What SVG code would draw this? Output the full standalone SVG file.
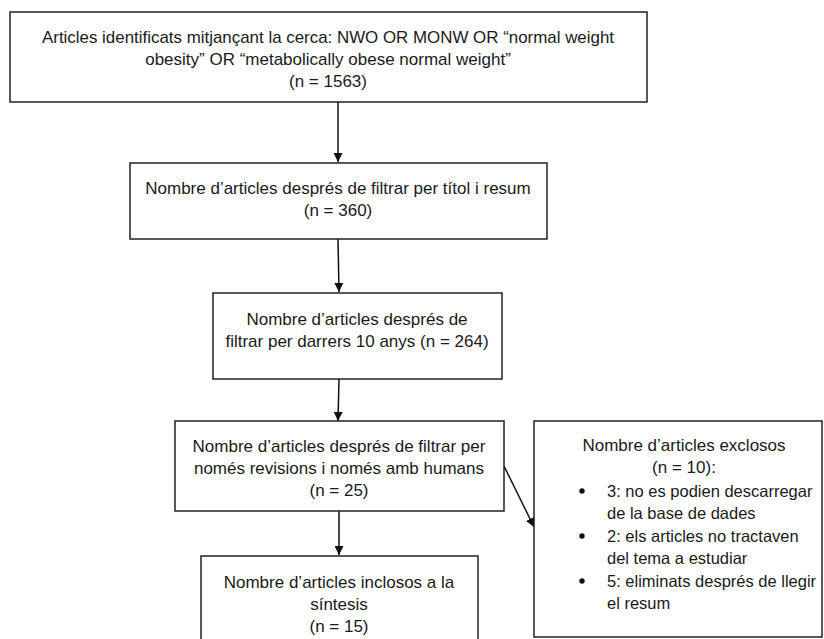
<svg xmlns="http://www.w3.org/2000/svg" width="824" height="639" viewBox="0 0 824 639">
<style>
.box{fill:#fff;stroke:#222;stroke-width:1.5}
text{font-family:"Liberation Sans",Arial,sans-serif;font-size:17px;fill:#1a1a1a}
.c{text-anchor:middle}
.li{font-size:16.5px}
.ln{stroke:#111;stroke-width:1.5;fill:none}
</style>
<defs>
<marker id="ah" viewBox="0 0 10 10" refX="10" refY="5" markerWidth="9" markerHeight="9" markerUnits="userSpaceOnUse" orient="auto">
<path d="M0,0 L10,5 L0,10 z" fill="#111"/>
</marker>
</defs>
<rect width="824" height="639" fill="#fff"/>
<g id="connectors">
<line class="ln" x1="338" y1="102" x2="338" y2="162" marker-end="url(#ah)"/>
<line class="ln" x1="338" y1="239" x2="339" y2="292" marker-end="url(#ah)"/>
<line class="ln" x1="339" y1="379" x2="338" y2="421" marker-end="url(#ah)"/>
<line class="ln" x1="339" y1="511" x2="339" y2="555" marker-end="url(#ah)"/>
<line class="ln" x1="504" y1="466" x2="534" y2="527" marker-end="url(#ah)"/>
</g>
<g id="n1">
<rect class="box" x="10" y="12" width="637" height="90"/>
<text class="c" x="328" y="43" textLength="572" lengthAdjust="spacingAndGlyphs">Articles identificats mitjançant la cerca: NWO OR MONW OR “normal weight</text>
<text class="c" x="328" y="65">obesity” OR “metabolically obese normal weight”</text>
<text class="c" x="328" y="87">(n = 1563)</text>
</g>
<g id="n2">
<rect class="box" x="130" y="163" width="417" height="76"/>
<text class="c" x="338" y="194">Nombre d’articles després de filtrar per títol i resum</text>
<text class="c" x="338" y="216">(n = 360)</text>
</g>
<g id="n3">
<rect class="box" x="213" y="293" width="289" height="86"/>
<text class="c" x="357" y="325">Nombre d’articles després de</text>
<text class="c" x="357" y="347">filtrar per darrers 10 anys (n = 264)</text>
</g>
<g id="n4">
<rect class="box" x="175" y="421" width="329" height="90"/>
<text class="c" x="339" y="452">Nombre d’articles després de filtrar per</text>
<text class="c" x="339" y="474">només revisions i només amb humans</text>
<text class="c" x="339" y="496">(n = 25)</text>
</g>
<g id="n5">
<rect class="box" x="201" y="556" width="277" height="90"/>
<text class="c" x="339" y="588">Nombre d’articles inclosos a la</text>
<text class="c" x="339" y="610">síntesis</text>
<text class="c" x="339" y="632">(n = 15)</text>
</g>
<g id="n6">
<rect class="box" x="534" y="421" width="288" height="216"/>
<text class="c" x="684" y="451">Nombre d’articles exclosos</text>
<text class="c" x="684" y="473">(n = 10):</text>
<circle cx="582" cy="491" r="2.7" fill="#111"/>
<text class="li" x="607" y="497">3: no es podien descarregar</text>
<text class="li" x="607" y="519">de la base de dades</text>
<circle cx="582" cy="536" r="2.7" fill="#111"/>
<text class="li" x="607" y="542">2: els articles no tractaven</text>
<text class="li" x="607" y="564">del tema a estudiar</text>
<circle cx="582" cy="581" r="2.7" fill="#111"/>
<text class="li" x="607" y="587">5: eliminats després de llegir</text>
<text class="li" x="607" y="609">el resum</text>
</g>
</svg>
